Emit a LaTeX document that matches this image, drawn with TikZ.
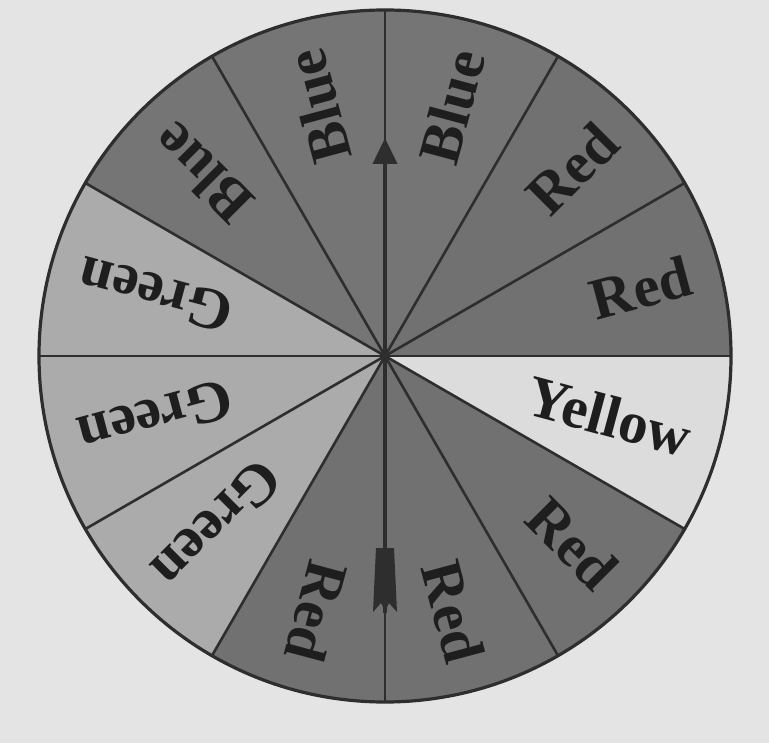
\documentclass[tikz,border=0pt]{standalone}
\usepackage{fontspec}
\setmainfont{Liberation Serif}
\usetikzlibrary{arrows.meta}
\definecolor{bgc}{HTML}{E4E4E4}
\definecolor{redc}{HTML}{717171}
\definecolor{bluec}{HTML}{757575}
\definecolor{greenc}{HTML}{ABABAB}
\definecolor{yellowc}{HTML}{DCDCDC}
\definecolor{linec}{HTML}{2E2E2E}
\definecolor{txtc}{HTML}{1E1E1E}
\tikzset{
  sectorline/.style={draw=linec, line width=1.3pt},
  rim/.style={draw=linec, line width=1.6pt},
  lbl/.style={font=\bfseries\fontsize{29.5}{31}\selectfont, text=txtc, inner sep=0pt, anchor=east},
}
\begin{document}
\begin{tikzpicture}[x=0.5pt,y=0.5pt]
\def\R{346}
\fill[bgc] (-385,-387) rectangle (384,356);
\useasboundingbox (-385,-387) rectangle (384,356);
\coordinate (c) at (0,0);
% sectors
\foreach \a/\col in {0/redc,30/redc,60/bluec,90/bluec,120/bluec,150/greenc,180/greenc,210/greenc,240/redc,270/redc,300/redc,330/yellowc}{
  \fill[\col] (c) -- (\a:\R) arc[start angle=\a, end angle=\a+30, radius=\R] -- cycle;
}
\foreach \a in {0,30,...,330}{
  \draw[sectorline] (c) -- (\a:\R);
}
\draw[rim] (c) circle[radius=\R];
% labels
\foreach \m/\t [count=\i] in {15/Red,45/Red,75/Blue,105/Blue,135/Blue,165/Green,195/Green,225/Green,255/Red,285/Red,315/Red,345/Yellow}{
  \node[lbl, rotate=\m] (t\i) at (\m:316) {\t};
}
% spinner arrow
\coordinate (tail) at (0,-257);
\coordinate (head) at (0,218);
\draw[draw=linec, line width=2pt, -{Triangle[length=13pt,width=12pt]}] (tail) -- (head);
\fill[linec] (-9,-192) -- (9,-192) -- (12,-256) -- (4,-247) -- (0,-255) -- (-4,-247) -- (-12,-256) -- cycle;
\end{tikzpicture}
\end{document}
